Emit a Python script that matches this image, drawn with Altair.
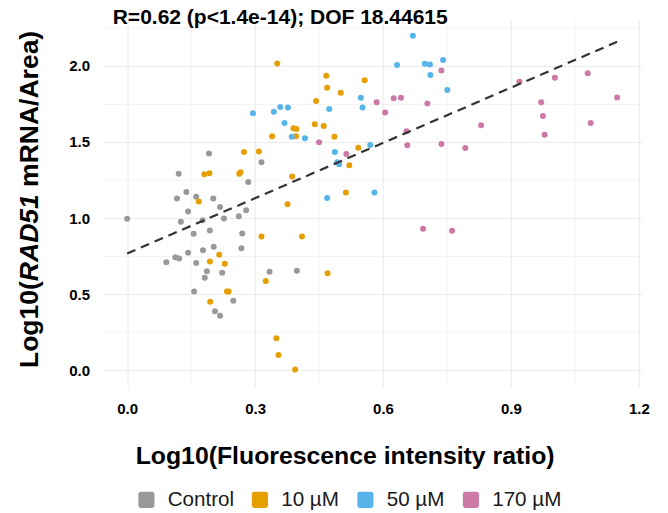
import altair as alt
import pandas as pd

groups = ["Control", "10 µM", "50 µM", "170 µM"]
colors = ["#999999", "#E69F00", "#56B4E9", "#CC79A7"]

ctrl_x = [0.192, 0.315, 0.121, 0.284, 0.139, 0.117, 0.162, 0.202, 0.218, 0.143, 0.279, 0.227,
          0.262, 0.000, 0.126, 0.177, 0.194, 0.156, 0.270, 0.203, 0.178, 0.143, 0.268, 0.113,
          0.122, 0.092, 0.162, 0.187, 0.223, 0.182, 0.334, 0.398, 0.157, 0.249, 0.206, 0.218]
ctrl_y = [1.423, 1.366, 1.290, 1.237, 1.170, 1.128, 1.139, 1.128, 1.073, 1.043, 1.051, 0.997,
          1.012, 0.995, 0.975, 0.986, 0.918, 0.896, 0.898, 0.811, 0.789, 0.772, 0.802, 0.743,
          0.734, 0.710, 0.704, 0.651, 0.640, 0.608, 0.647, 0.654, 0.518, 0.457, 0.387, 0.359]

d10_x = [0.274, 0.309, 0.181, 0.193, 0.263, 0.266, 0.387, 0.168, 0.376, 0.315, 0.410, 0.216,
         0.194, 0.229, 0.325, 0.234, 0.238, 0.195, 0.350, 0.355, 0.394, 0.470, 0.352, 0.467,
         0.469, 0.557, 0.501, 0.443, 0.440, 0.461, 0.390, 0.397, 0.340, 0.396, 0.486, 0.542,
         0.521, 0.513]
d10_y = [1.434, 1.436, 1.287, 1.294, 1.290, 1.300, 1.272, 1.108, 1.090, 0.879, 0.879, 0.759,
         0.715, 0.700, 0.586, 0.518, 0.518, 0.450, 0.210, 0.100, 0.005, 0.638, 2.015, 1.934,
         1.856, 1.904, 1.823, 1.768, 1.615, 1.604, 1.589, 1.585, 1.537, 1.537, 1.534, 1.462,
         1.346, 1.167]

d50_x = [0.670, 0.633, 0.698, 0.710, 0.741, 0.711, 0.751, 0.548, 0.552, 0.295, 0.344, 0.359,
         0.377, 0.474, 0.369, 0.386, 0.417, 0.570, 0.487, 0.493, 0.497, 0.469, 0.580]
d50_y = [2.197, 2.005, 2.013, 2.008, 2.037, 1.939, 1.840, 1.790, 1.725, 1.687, 1.698, 1.729,
         1.725, 1.716, 1.623, 1.534, 1.523, 1.480, 1.434, 1.366, 1.353, 1.131, 1.167]

d170_x = [0.585, 0.625, 0.642, 0.605, 0.704, 0.450, 0.655, 0.657, 0.514, 0.694, 0.737, 0.737,
          0.793, 0.830, 0.920, 1.003, 1.080, 0.971, 0.975, 0.979, 1.087, 1.149, 0.762]
d170_y = [1.760, 1.786, 1.790, 1.692, 1.751, 1.497, 1.569, 1.477, 1.421, 0.929, 1.969, 1.486,
          1.460, 1.609, 1.895, 1.921, 1.950, 1.760, 1.670, 1.546, 1.624, 1.792, 0.916]

fit_x = [0.0, 1.149]
fit_y = [0.767, 2.157]

title_text = "R=0.62 (p<1.4e-14); DOF 18.44615"
x_title = "Log10(Fluorescence intensity ratio)"
y_title_parts = ["Log10(", "RAD51", "mRNA/Area)"]
x_ticks = [0.0, 0.15, 0.3, 0.45, 0.6, 0.75, 0.9, 1.05, 1.2]
y_ticks = [0.0, 0.25, 0.5, 0.75, 1.0, 1.25, 1.5, 1.75, 2.0, 2.25]

rows = []
for g, xs, ys in zip(groups, [ctrl_x, d10_x, d50_x, d170_x], [ctrl_y, d10_y, d50_y, d170_y]):
    for a, b in zip(xs, ys):
        rows.append({"x": a, "y": b, "group": g})
df = pd.DataFrame(rows)
fit_df = pd.DataFrame({"x": fit_x, "y": fit_y})

FONT = "Liberation Sans"
W, H = 539, 368
xscale = alt.Scale(domain=[-0.0575, 1.2064], nice=False, zero=False)
yscale = alt.Scale(domain=[-0.1096, 2.3066], nice=False, zero=False)

rounded_sq = ("M -0.7,-1 L 0.7,-1 Q 1,-1 1,-0.7 L 1,0.7 Q 1,1 0.7,1 L -0.7,1 "
              "Q -1,1 -1,0.7 L -1,-0.7 Q -1,-1 -0.7,-1 Z")

x_axis = alt.Axis(
    values=x_ticks,
    labelExpr="round(datum.value*100) % 30 === 0 ? format(datum.value, '.1f') : ''",
    gridWidth={"condition": {"test": "round(datum.value*100) % 30 !== 0", "value": 0.55}, "value": 1.1},
    title=x_title, titleFont=FONT, titleFontSize=24.8, titleFontWeight="bold", titleColor="#000000",
    titleX=242, titleY=76, titleAlign="center", titleBaseline="alphabetic", titleAnchor="start",
    labelPadding=14,
)
y_axis = alt.Axis(
    values=y_ticks,
    labelExpr="round(datum.value*100) % 50 === 0 ? format(datum.value, '.1f') : ''",
    gridWidth={"condition": {"test": "round(datum.value*100) % 50 !== 0", "value": 0.55}, "value": 1.1},
    title=None, labelPadding=13,
)

points = alt.Chart(df).mark_circle(size=36, opacity=1).encode(
    x=alt.X("x:Q", scale=xscale, axis=x_axis),
    y=alt.Y("y:Q", scale=yscale, axis=y_axis),
    color=alt.Color(
        "group:N",
        scale=alt.Scale(domain=groups, range=colors),
        legend=alt.Legend(
            title=None, orient="none", legendX=33.5, legendY=470.5, direction="horizontal",
            columns=4, labelFont=FONT, labelFontSize=20.6, labelColor="#1a1a1a",
            symbolType=rounded_sq, symbolSize=260, symbolStrokeWidth=0, symbolOpacity=1,
            labelOffset=11, columnPadding=15.5, padding=0,
        ),
    ),
)

fit = alt.Chart(fit_df).mark_line(color="#333333", strokeDash=[9, 6], strokeWidth=2.2).encode(
    x=alt.X("x:Q", scale=xscale), y=alt.Y("y:Q", scale=yscale)
)

title_mark = alt.Chart(pd.DataFrame({"t": [title_text]})).mark_text(
    font=FONT, fontSize=21, fontWeight="bold", align="left", baseline="alphabetic", color="#000000"
).encode(text="t:N", x=alt.value(10.1), y=alt.value(4.5))

ysize = 26.5
seg_w = [3.278 * ysize, 3.278 * ysize, 0.278 * ysize]
y0 = 349
starts = [y0, y0 - seg_w[0], y0 - seg_w[0] - seg_w[1] - seg_w[2]]
styles = ["normal", "italic", "normal"]
ytitle_layers = []
for part, st, sy in zip(y_title_parts, styles, starts):
    ytitle_layers.append(
        alt.Chart(pd.DataFrame({"t": [part]})).mark_text(
            font=FONT, fontSize=ysize, fontWeight="bold", fontStyle=st, angle=270,
            align="left", baseline="alphabetic", color="#000000"
        ).encode(text="t:N", x=alt.value(-64.3), y=alt.value(sy))
    )

chart = alt.layer(points, fit, title_mark, *ytitle_layers).properties(
    width=W, height=H,
    autosize=alt.AutoSizeParams(type="none"),
    padding={"left": 94.6, "top": 11, "right": 18.4, "bottom": 125},
).configure_view(stroke=None).configure_axis(
    domain=False, ticks=False, gridColor="#EBEBEB",
    labelFont=FONT, labelFontSize=15, labelFontWeight="bold", labelColor="#000000",
)

chart.save("out.html", embed_options={"renderer": "svg", "actions": False})
